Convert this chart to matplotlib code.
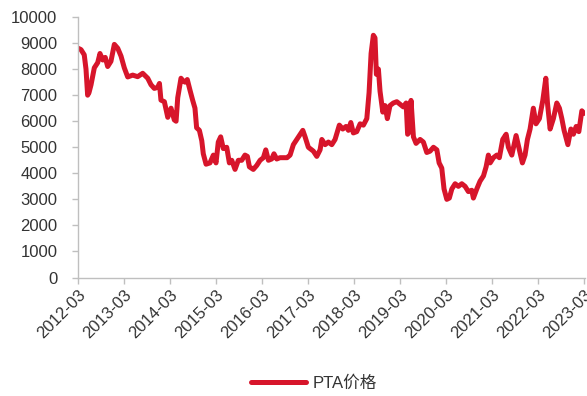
import matplotlib
matplotlib.use("Agg")
import matplotlib.pyplot as plt
import matplotlib.dates as mdates
import pandas as pd

plt.rcParams['font.family'] = ['Liberation Sans', 'Noto Sans CJK SC', 'DejaVu Sans']

dates = [
    "2012-03-01", "2012-03-23", "2012-04-18", "2012-05-02", "2012-05-15", "2012-05-26",
    "2012-06-11", "2012-07-07", "2012-08-03", "2012-08-21", "2012-09-12", "2012-10-02",
    "2012-10-21", "2012-11-16", "2012-12-13", "2013-01-09", "2013-02-04", "2013-03-02",
    "2013-03-29", "2013-05-08", "2013-06-16", "2013-07-26", "2013-09-04", "2013-09-30",
    "2013-10-26", "2013-11-22", "2013-12-06", "2013-12-18", "2014-01-14", "2014-02-10",
    "2014-03-08", "2014-04-03", "2014-04-17", "2014-04-30", "2014-05-26", "2014-06-11",
    "2014-06-27", "2014-07-15", "2014-08-05", "2014-08-27", "2014-09-14", "2014-09-27",
    "2014-10-19", "2014-11-07", "2014-11-19", "2014-12-11", "2015-01-11", "2015-02-07",
    "2015-02-28", "2015-03-18", "2015-04-06", "2015-04-27", "2015-05-24", "2015-06-14",
    "2015-07-03", "2015-07-29", "2015-08-24", "2015-09-20", "2015-10-16", "2015-11-04",
    "2015-11-20", "2015-12-21", "2016-01-17", "2016-02-13", "2016-03-10", "2016-03-29",
    "2016-04-19", "2016-05-15", "2016-06-02", "2016-06-24", "2016-07-20", "2016-08-21",
    "2016-09-14", "2016-10-08", "2016-11-03", "2016-11-30", "2016-12-26", "2017-01-17",
    "2017-02-04", "2017-03-02", "2017-04-11", "2017-05-08", "2017-06-03", "2017-06-17",
    "2017-07-13", "2017-08-08", "2017-09-04", "2017-09-30", "2017-11-03", "2017-11-30",
    "2017-12-26", "2018-01-14", "2018-02-02", "2018-02-22", "2018-03-21", "2018-04-17",
    "2018-05-13", "2018-06-09", "2018-06-27", "2018-07-13", "2018-07-31", "2018-08-13",
    "2018-08-24", "2018-09-09", "2018-09-22", "2018-10-14", "2018-11-01", "2018-11-19",
    "2018-12-10", "2019-01-06", "2019-02-02", "2019-02-28", "2019-03-26", "2019-04-17",
    "2019-04-29", "2019-05-13", "2019-05-26", "2019-06-14", "2019-07-05", "2019-08-06",
    "2019-09-01", "2019-09-28", "2019-10-24", "2019-11-20", "2019-12-17", "2020-01-04",
    "2020-01-25", "2020-02-12", "2020-03-05", "2020-03-25", "2020-04-14", "2020-05-10",
    "2020-06-05", "2020-07-02", "2020-07-28", "2020-08-23", "2020-09-19", "2020-10-02",
    "2020-10-29", "2020-11-24", "2020-12-21", "2021-01-11", "2021-01-29", "2021-02-12",
    "2021-03-10", "2021-04-06", "2021-04-26", "2021-05-23", "2021-06-19", "2021-07-07",
    "2021-08-03", "2021-09-06", "2021-10-02", "2021-10-26", "2021-11-16", "2021-12-05",
    "2021-12-26", "2022-01-21", "2022-02-11", "2022-03-10", "2022-04-06", "2022-04-30",
    "2022-05-13", "2022-06-03", "2022-06-29", "2022-07-26", "2022-08-16", "2022-09-04",
    "2022-09-22", "2022-10-22", "2022-11-15", "2022-12-05", "2022-12-27", "2023-01-17",
    "2023-02-10", "2023-02-28",
]

pta_price = [
    8800, 8750, 8550, 8000, 7000, 7100,
    7400, 8050, 8250, 8600, 8350, 8450,
    8100, 8300, 8950, 8800, 8500, 8050,
    7700, 7770, 7710, 7840, 7650, 7400,
    7260, 7300, 7450, 6810, 6750, 6150,
    6500, 6050, 6000, 6900, 7650, 7550,
    7500, 7600, 7200, 6800, 6500, 5750,
    5650, 5250, 4750, 4350, 4400, 4700,
    4400, 5200, 5400, 4950, 5000, 4400,
    4500, 4150, 4500, 4500, 4700, 4650,
    4250, 4150, 4300, 4500, 4600, 4900,
    4500, 4550, 4750, 4550, 4600, 4600,
    4600, 4700, 5100, 5300, 5500, 5650,
    5400, 5000, 4850, 4650, 4900, 5300,
    5100, 5200, 5100, 5300, 5850, 5700,
    5800, 5650, 5950, 5550, 5600, 5900,
    5850, 6100, 7100, 8600, 9300, 9200,
    7800, 8000, 7150, 6350, 6600, 6100,
    6600, 6700, 6750, 6650, 6550, 6700,
    5500, 5600, 6800, 5400, 5150, 5300,
    5200, 4800, 4850, 5000, 4900, 4400,
    4200, 3400, 3000, 3050, 3400, 3600,
    3500, 3600, 3500, 3300, 3350, 3050,
    3400, 3700, 3900, 4250, 4700, 4400,
    4600, 4700, 4600, 5300, 5500, 5000,
    4700, 5450, 4900, 4400, 4700, 5300,
    5700, 6500, 5900, 6100, 6800, 7650,
    6700, 5700, 6100, 6700, 6500, 6100,
    5650, 5100, 5700, 5500, 5800, 5600,
    6400, 6300,
]

tick_labels = ["2012-03", "2013-03", "2014-03", "2015-03", "2016-03", "2017-03",
               "2018-03", "2019-03", "2020-03", "2021-03", "2022-03", "2023-03"]
y_ticks = [0, 1000, 2000, 3000, 4000, 5000, 6000, 7000, 8000, 9000, 10000]
series_name = "PTA价格"

x = pd.to_datetime(dates)
tick_dates = pd.to_datetime([t + "-01" for t in tick_labels])

fig = plt.figure(figsize=(5.87, 3.96), dpi=100)
ax = fig.add_axes([0.1332, 0.2992, 0.8634, 0.6578])

red = '#D7152B'
ax.plot(x, pta_price, color=red, linewidth=3.6, solid_joinstyle='round',
        solid_capstyle='round', label=series_name)

ax.set_ylim(0, 10000)
ax.set_yticks(y_ticks)
ax.set_xlim(tick_dates[0], tick_dates[-1] + pd.Timedelta(days=6))
ax.set_xticks(tick_dates)
ax.set_xticklabels(tick_labels, rotation=45, ha='right', va='top',
                   rotation_mode='anchor')

for s in ['top', 'right']:
    ax.spines[s].set_visible(False)
for s in ['left', 'bottom']:
    ax.spines[s].set_color('#BFBFBF')
    ax.spines[s].set_linewidth(1.0)
ax.tick_params(axis='both', colors='#BFBFBF', length=4, width=1.0,
               labelcolor='#333333', labelsize=12)
ax.tick_params(axis='x', pad=3)
ax.tick_params(axis='y', pad=11)

leg = fig.legend(loc='center', bbox_to_anchor=(0.535, 0.033), frameon=False,
                 fontsize=12, handlelength=3.3, handletextpad=0.35)
for t in leg.get_texts():
    t.set_color('#333333')

fig.savefig('out.png', dpi=100)
